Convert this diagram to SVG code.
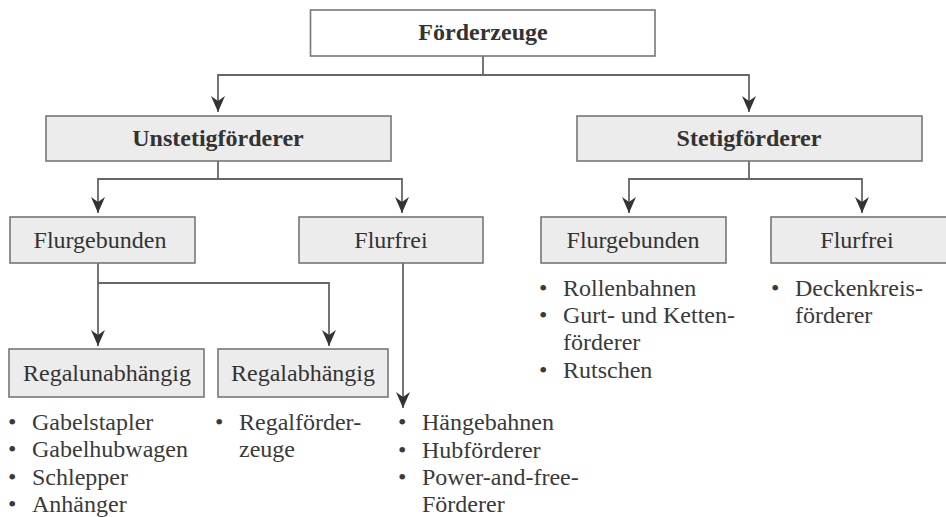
<svg xmlns="http://www.w3.org/2000/svg" width="946" height="517" viewBox="0 0 946 517">
<defs>
<marker id="ah" markerUnits="userSpaceOnUse" markerWidth="20" markerHeight="20" refX="0" refY="0" viewBox="-18 -9 20 18" orient="auto">
<path d="M0,0 L-16,-7 L-11,0 L-16,7 Z" fill="#333"/>
</marker>
</defs>
<style>
text{font-family:"Liberation Serif","Times New Roman",Times,"Noto Serif","DejaVu Serif","Nimbus Roman","FreeSerif",serif}
.box{fill:#ececec;stroke:#777;stroke-width:1.6}
.top{fill:#fff;stroke:#777;stroke-width:1.6}
.lbl{font-size:24px;fill:#333;text-anchor:middle}
.b{font-weight:bold}
.lst{font-size:24px;fill:#3a3a3a}
.c{fill:none;stroke:#666;stroke-width:1.8}
.a{marker-end:url(#ah)}
</style>
<rect width="946" height="517" fill="#fff"/>
<g id="connectors">
<path class="c" d="M483,56 V75"/>
<path class="c a" d="M483,75 H218 V112"/>
<path class="c a" d="M483,75 H749 V112"/>
<path class="c" d="M218,161 V179"/>
<path class="c a" d="M218,179 H98 V213"/>
<path class="c a" d="M218,179 H402 V213"/>
<path class="c" d="M749,161 V179"/>
<path class="c a" d="M749,179 H629 V213"/>
<path class="c a" d="M749,179 H862 V213"/>
<path class="c a" d="M98,263 V346"/>
<path class="c a" d="M98,283 H329 V346"/>
<path class="c a" d="M403,263 V408"/>
</g>
<g id="foerderzeuge">
<rect class="top" x="310.5" y="10" width="344.5" height="46"/>
<text class="lbl b" x="483" y="40">Förderzeuge</text>
</g>
<g id="unstetig">
<rect class="box" x="46" y="116" width="345" height="45"/>
<text class="lbl b" x="218" y="146">Unstetigförderer</text>
</g>
<g id="stetig">
<rect class="box" x="577" y="116" width="345" height="45"/>
<text class="lbl b" x="749" y="146">Stetigförderer</text>
</g>
<g id="u-flurgebunden">
<rect class="box" x="10" y="217" width="185" height="46"/>
<text class="lbl" x="100" y="248">Flurgebunden</text>
</g>
<g id="u-flurfrei">
<rect class="box" x="299" y="217" width="184" height="46"/>
<text class="lbl" x="391" y="248">Flurfrei</text>
</g>
<g id="s-flurgebunden">
<rect class="box" x="541" y="217" width="185" height="46"/>
<text class="lbl" x="633" y="248">Flurgebunden</text>
</g>
<g id="s-flurfrei">
<rect class="box" x="771" y="217" width="184" height="46"/>
<text class="lbl" x="857" y="248">Flurfrei</text>
</g>
<g id="regalunabhaengig">
<rect class="box" x="9" y="349" width="195" height="48"/>
<text class="lbl" x="107" y="381">Regalunabhängig</text>
</g>
<g id="regalabhaengig">
<rect class="box" x="218" y="349" width="170" height="48"/>
<text class="lbl" x="303" y="381">Regalabhängig</text>
</g>
<g id="list-regalunabhaengig" class="lst">
<text x="8" y="430">•</text><text x="32" y="430">Gabelstapler</text>
<text x="8" y="457">•</text><text x="32" y="457">Gabelhubwagen</text>
<text x="8" y="485">•</text><text x="32" y="485">Schlepper</text>
<text x="8" y="512">•</text><text x="32" y="512">Anhänger</text>
</g>
<g id="list-regalabhaengig" class="lst">
<text x="215" y="430">•</text><text x="239" y="430">Regalförder-</text>
<text x="239" y="457">zeuge</text>
</g>
<g id="list-u-flurfrei" class="lst">
<text x="398" y="430">•</text><text x="422" y="430">Hängebahnen</text>
<text x="398" y="458">•</text><text x="422" y="458">Hubförderer</text>
<text x="398" y="485">•</text><text x="422" y="485">Power-and-free-</text>
<text x="422" y="512">Förderer</text>
</g>
<g id="list-s-flurgebunden" class="lst">
<text x="539" y="296">•</text><text x="563" y="296">Rollenbahnen</text>
<text x="539" y="323">•</text><text x="563" y="323">Gurt- und Ketten-</text>
<text x="563" y="350">förderer</text>
<text x="539" y="378">•</text><text x="563" y="378">Rutschen</text>
</g>
<g id="list-s-flurfrei" class="lst">
<text x="771" y="296">•</text><text x="795" y="296">Deckenkreis-</text>
<text x="795" y="323">förderer</text>
</g>
</svg>
